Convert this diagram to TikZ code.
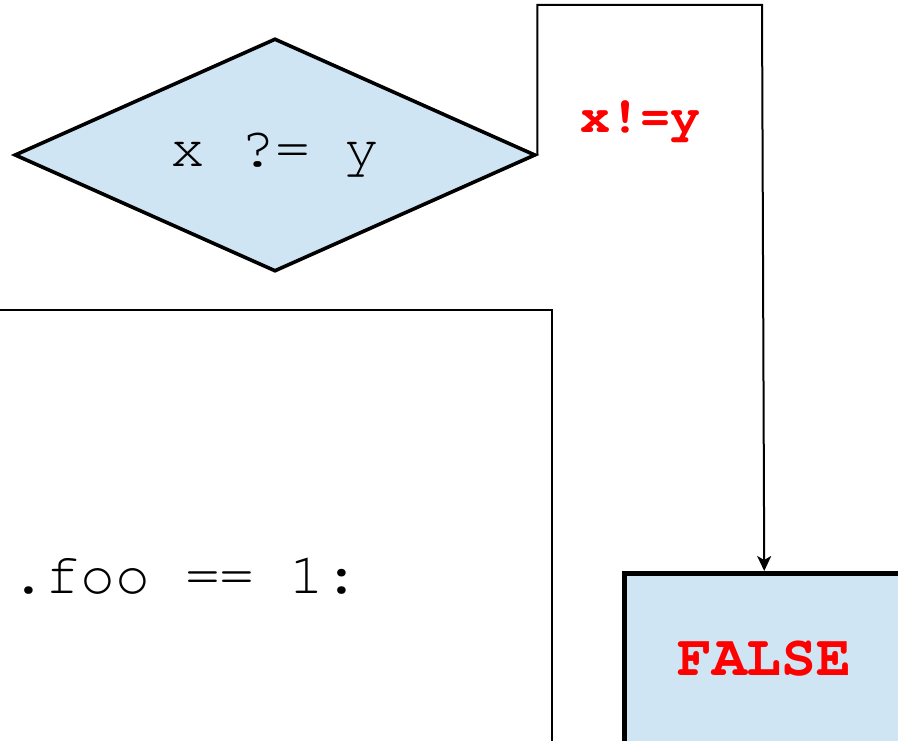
\documentclass[tikz,border=0pt]{standalone}
\usepackage{fontspec}
\usetikzlibrary{shapes.geometric,arrows.meta}
\newcommand{\cour}{\fontencoding{T1}\fontfamily{pcr}\selectfont}
\definecolor{boxblue}{RGB}{207,229,243}
\definecolor{lblred}{RGB}{255,0,0}
\tikzset{
  decision/.style={diamond, aspect=2.236, draw=black, line width=3.6pt, fill=boxblue, inner sep=0pt,
    minimum width=521pt, minimum height=233pt, font=\cour\fontsize{58}{60}\selectfont},
  resultbox/.style={rectangle, draw=black, line width=4.5pt, fill=boxblue, inner sep=0pt,
    minimum width=280pt, minimum height=172pt, text=lblred, font=\cour\bfseries\fontsize{58}{60}\selectfont},
  codebox/.style={draw=black, line width=2.2pt},
  codetext/.style={font=\cour\fontsize{58}{60}\selectfont, inner sep=0pt},
  condlabel/.style={text=lblred, font=\cour\bfseries\fontsize{50}{52}\selectfont, inner sep=0pt},
  conn/.style={draw=black, line width=2pt, -{Stealth[length=15pt,width=14pt,inset=4pt]}}
}
\begin{document}
\begin{tikzpicture}[x=1pt,y=-1pt]
\useasboundingbox (0,0) rectangle (898,741);
\clip (0,0) rectangle (898,741);
\draw[codebox] (-20,310) -- (552,310) -- (552,800);
\node[codetext, anchor=base west] (code) at (11,593) {.foo == 1:};
\node[decision] (d) at (275,155) {x ?= y};
\node[resultbox, anchor=north west] (false) at (622,571) {FALSE};
\coordinate (c2) at (762,5);
\draw[conn] (d.east) |- (c2) -- (false.north);
\node[condlabel, anchor=base] (cond) at (640,133) {x!=y};
\end{tikzpicture}
\end{document}
